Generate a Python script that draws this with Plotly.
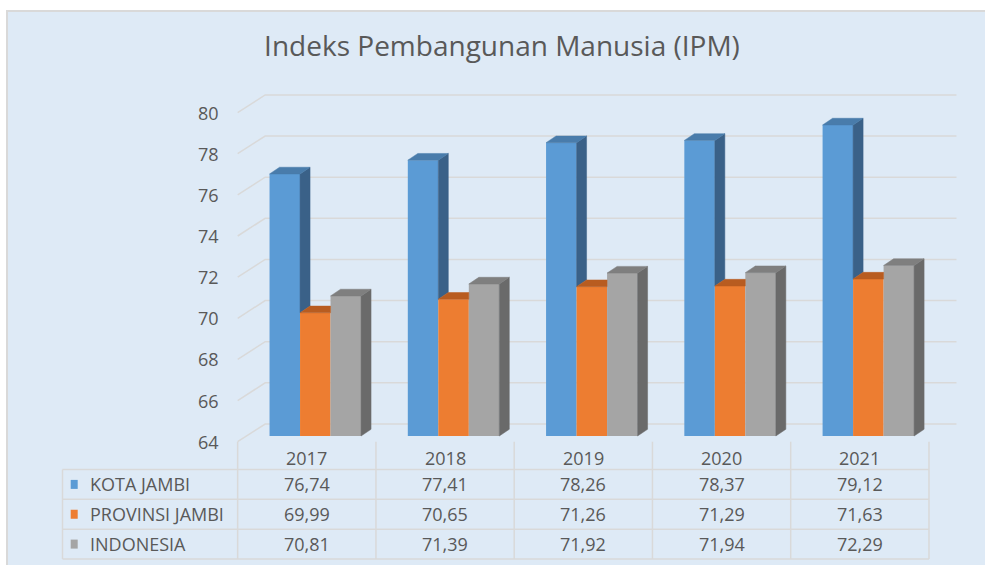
import plotly.graph_objects as go

# ---------------- data ----------------
years = ["2017", "2018", "2019", "2020", "2021"]
series_names = ["KOTA JAMBI", "PROVINSI JAMBI", "INDONESIA"]
kota_jambi = [76.74, 77.41, 78.26, 78.37, 79.12]
provinsi_jambi = [69.99, 70.65, 71.26, 71.29, 71.63]
indonesia = [70.81, 71.39, 71.92, 71.94, 72.29]
y_ticks = [64, 66, 68, 70, 72, 74, 76, 78, 80]
title_text = "Indeks Pembangunan Manusia (IPM)"

series_values = [kota_jambi, provinsi_jambi, indonesia]

# ---------------- style ----------------
front_colors = ["#5B9BD5", "#ED7D31", "#A5A5A5"]
top_colors = ["#497CAB", "#B85C20", "#7F7F7F"]
side_colors = ["#3A6188", "#9E4F1B", "#6A6A6A"]
TEXT = "#595959"
GRID = "#D9D9D9"
BG = "#DEEAF6"
FONT = "Open Sans"

W, H = 985, 565                          # figure size (body margin removed by post_script)
# all pixel positions below are screen coordinates
L, R, T, B = 230, 965, 85, 444           # plot area
XU = 138.26                              # pixels per category
X0PX = 306.8                             # pixel of first category centre (front plane)
YU = 20.57                               # pixels per index point
Y_BASE = y_ticks[0]
BASE_PX = 436                            # pixel row of the bar base
xlo, xhi = (L - X0PX) / XU, (R - X0PX) / XU
ylo = Y_BASE - (B - BASE_PX) / YU
yhi = Y_BASE + (BASE_PX - T) / YU

BW = 30.5 / XU                           # bar width
GOFF = 8.5 / XU                          # group shift (depth)
DX, DY = 10.0 / XU, 6.7 / YU             # bar depth
WALL_DX = 27.5 / XU
WALL_BACK_DY = 12.0 / YU
FRONT_DY = 5.7 / YU


def px_x(px):
    return (px - L) / (R - L)


def px_y(py):
    return (B - py) / (B - T)


def cat_px(x):
    return X0PX + x * XU


n = len(years)
cats = list(range(n))
fig = go.Figure()

# front faces of the bars
offsets = []
for k, (name, vals) in enumerate(zip(series_names, series_values)):
    off = GOFF - 1.5 * BW + k * BW
    offsets.append(off)
    fig.add_trace(go.Bar(
        x=cats, y=[v - Y_BASE for v in vals], base=Y_BASE,
        width=BW, offset=off, name=name,
        marker=dict(color=front_colors[k], line=dict(width=0)),
        customdata=vals, hovertemplate=name + ": %{customdata}<extra></extra>",
        showlegend=False,
    ))

# 3-D side and top faces
for k, vals in enumerate(series_values):
    nxt = series_values[k + 1] if k + 1 < len(series_values) else None
    sx, sy, tx, ty = [], [], [], []
    for i in cats:
        v = vals[i]
        x0 = i + offsets[k]
        x1 = x0 + BW
        lo = Y_BASE if nxt is None else max(Y_BASE, nxt[i])
        if v > lo:
            sx += [x1, x1 + DX, x1 + DX, x1, x1, None]
            sy += [lo, lo + DY, v + DY, v, lo, None]
        if nxt is not None and nxt[i] > v:
            tx += [x0, x1, x1, x0 + DX, x0, None]
            ty += [v, v, v + DY, v + DY, v, None]
        else:
            tx += [x0, x1, x1 + DX, x0 + DX, x0, None]
            ty += [v, v, v + DY, v + DY, v, None]
    if sx:
        fig.add_trace(go.Scatter(x=sx, y=sy, mode="lines", fill="toself",
                                 fillcolor=side_colors[k],
                                 line=dict(color=side_colors[k], width=0.5),
                                 hoverinfo="skip", showlegend=False))
    fig.add_trace(go.Scatter(x=tx, y=ty, mode="lines", fill="toself",
                             fillcolor=top_colors[k],
                             line=dict(color=top_colors[k], width=0.5),
                             hoverinfo="skip", showlegend=False))

shapes = []
# chart area background
shapes.append(dict(type="rect", xref="paper", yref="paper", layer="below",
                   x0=px_x(7), x1=px_x(1000), y0=px_y(11), y1=px_y(580),
                   fillcolor=BG, line=dict(color=GRID, width=2)))
# wall gridlines with perspective
for t in y_ticks:
    xf, yf = -0.5, t - FRONT_DY
    xb, yb = -0.5 + WALL_DX, t + WALL_BACK_DY
    xr = n - 0.5 + WALL_DX
    shapes.append(dict(type="path", xref="x", yref="y", layer="below",
                       path=f"M {xf},{yf} L {xb},{yb} L {xr},{yb}",
                       line=dict(color=GRID, width=1.5)))

# data table
TBL_LEFT = 62.5
ROW_LINES = [469.5, 499.3, 529.2, 559.0]
TOP_FRONT = BASE_PX + 5.7
for k in range(n + 1):
    xp = cat_px(k - 0.5)
    shapes.append(dict(type="line", xref="paper", yref="paper", layer="below",
                       x0=px_x(xp), x1=px_x(xp), y0=px_y(TOP_FRONT), y1=px_y(ROW_LINES[-1]),
                       line=dict(color=GRID, width=1.5)))
for yl in ROW_LINES:
    shapes.append(dict(type="line", xref="paper", yref="paper", layer="below",
                       x0=px_x(TBL_LEFT), x1=px_x(cat_px(n - 0.5)), y0=px_y(yl), y1=px_y(yl),
                       line=dict(color=GRID, width=1.5)))
shapes.append(dict(type="line", xref="paper", yref="paper", layer="below",
                   x0=px_x(TBL_LEFT), x1=px_x(TBL_LEFT), y0=px_y(ROW_LINES[0]), y1=px_y(ROW_LINES[-1]),
                   line=dict(color=GRID, width=1.5)))

annotations = []
# y tick labels (front plane)
for t in y_ticks:
    annotations.append(dict(xref="paper", yref="y", x=px_x(221), y=t - FRONT_DY,
                            text=str(t), showarrow=False, xanchor="right", yanchor="middle",
                            font=dict(family=FONT, size=18, color=TEXT)))
# year header
for i, yr in enumerate(years):
    annotations.append(dict(xref="paper", yref="paper", x=px_x(cat_px(i)), y=px_y(458),
                            text=yr, showarrow=False, xanchor="center", yanchor="middle",
                            font=dict(family=FONT, size=18, color=TEXT)))
# rows
for r, (name, vals) in enumerate(zip(series_names, series_values)):
    yc = (ROW_LINES[r] + ROW_LINES[r + 1]) / 2
    shapes.append(dict(type="rect", xref="paper", yref="paper", layer="above",
                       x0=px_x(70.7), x1=px_x(77.7), y0=px_y(yc - 4.5), y1=px_y(yc + 4.5),
                       fillcolor=front_colors[r], line=dict(width=0)))
    annotations.append(dict(xref="paper", yref="paper", x=px_x(87.5), y=px_y(yc),
                            text=name, showarrow=False, xanchor="left", yanchor="middle",
                            font=dict(family=FONT, size=18, color=TEXT)))
    for i, v in enumerate(vals):
        annotations.append(dict(xref="paper", yref="paper", x=px_x(cat_px(i)), y=px_y(yc),
                                text=f"{v:.2f}".replace(".", ","), showarrow=False,
                                xanchor="center", yanchor="middle",
                                font=dict(family=FONT, size=18, color=TEXT)))

fig.update_layout(
    width=W, height=H,
    margin=dict(l=L, r=W - R, t=T, b=H - B),
    paper_bgcolor="white", plot_bgcolor="rgba(0,0,0,0)",
    barmode="overlay",
    title=dict(text=title_text, x=502 / W, xref="container", xanchor="center",
               y=1 - 46.5 / H, yref="container", yanchor="middle",
               font=dict(family=FONT, size=28, color=TEXT)),
    xaxis=dict(range=[xlo, xhi], showgrid=False, zeroline=False, showticklabels=False,
               showline=False, ticks="", fixedrange=True),
    yaxis=dict(range=[ylo, yhi], showgrid=False, zeroline=False, showticklabels=False,
               showline=False, ticks="", fixedrange=True),
    shapes=shapes, annotations=annotations,
    showlegend=False,
)

fig.write_html("out.html",
               config={"displayModeBar": False, "staticPlot": True},
               post_script="document.body.style.margin='0';document.body.style.overflow='hidden';")
